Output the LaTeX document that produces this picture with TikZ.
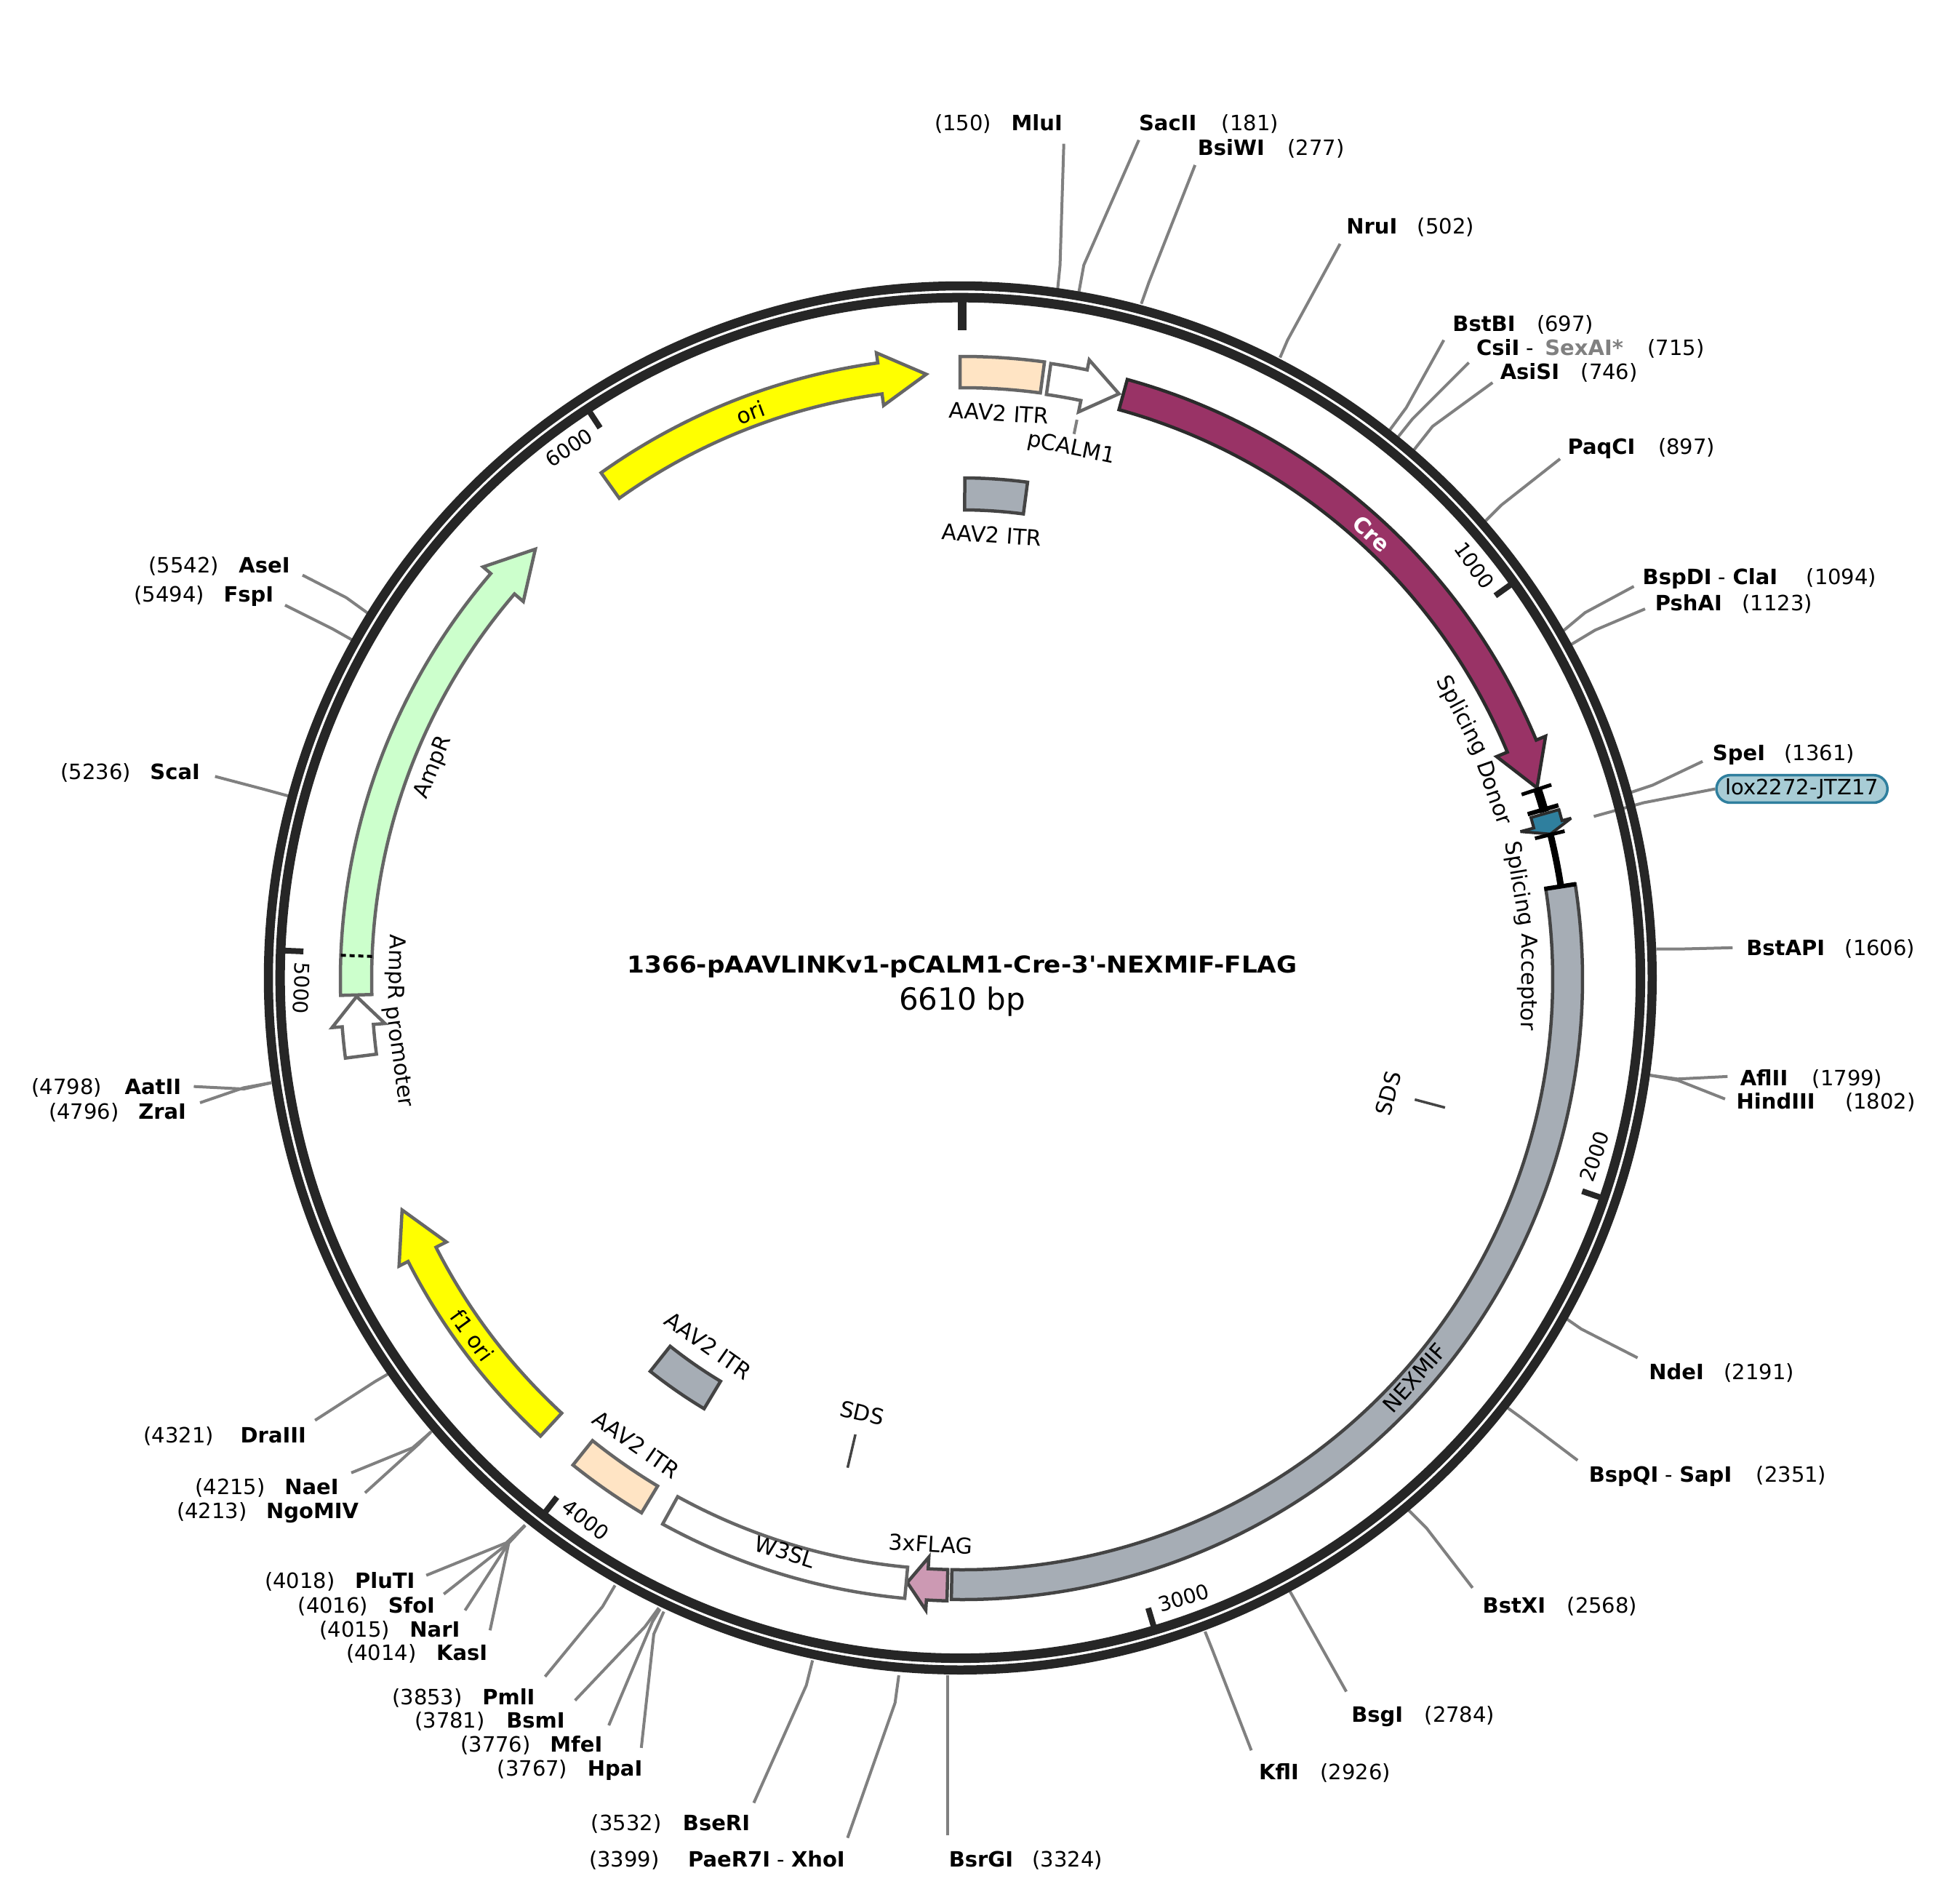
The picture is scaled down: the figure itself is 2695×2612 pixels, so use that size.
\documentclass[tikz,border=0pt]{standalone}
\usepackage{fontspec}
\setmainfont[Ligatures=TeXOff]{DejaVu Sans}
\newfontfamily\titlefamily[Ligatures=TeXOff,FakeStretch=1.07]{DejaVu Sans}
\usetikzlibrary{shapes.misc}
\definecolor{ring}{HTML}{262626}
\definecolor{leader}{HTML}{808080}
\definecolor{edgeA}{HTML}{666666}
\definecolor{edgeB}{HTML}{444444}
\definecolor{edgeC}{HTML}{2B2B2B}
\definecolor{peach}{HTML}{FFE4C4}
\definecolor{greyfeat}{HTML}{A6ADB5}
\definecolor{maroon}{HTML}{993366}
\definecolor{pinkfeat}{HTML}{CC99B3}
\definecolor{teal}{HTML}{2F7F9E}
\definecolor{mint}{HTML}{CCFFCC}
\definecolor{pill}{HTML}{A8CCD5}
\definecolor{ylw}{HTML}{FFFF00}
\definecolor{sexgrey}{HTML}{808080}
\newcommand{\lblfont}{\fontsize{29}{34}\selectfont}
\newcommand{\featfont}{\fontsize{30}{35}\selectfont}
\newcommand{\tickfont}{\fontsize{28}{33}\selectfont}
\newcommand{\gp}[1]{\hspace{\dimexpr24.6pt+#1pt\relax}}
\newcommand{\featbox}[5]{\draw[#1] ({90-#2}:#5) arc[start angle={90-#2},end angle={90-#3},radius=#5] -- ({90-#3}:#4) arc[start angle={90-#3},end angle={90-#2},radius=#4] -- cycle;}
\newcommand{\featarrow}[4]{\draw[#1] ({90-#2}:855) arc[start angle={90-#2},end angle={90-#3},radius=855] -- ({90-#3}:869) -- ({90-#4}:833) -- ({90-#3}:796) -- ({90-#3}:812) arc[start angle={90-#3},end angle={90-#2},radius=812] -- cycle;}
\newcommand{\site}[7]{\coordinate (#1-e) at (#5); \coordinate (#1-k) at (#6); \coordinate (#1-r) at (#7);
  \draw[leaderline] (#1-e) -- (#1-k) -- (#1-r);
  \node[sitelabel,anchor=#2] (#1) at (#3) {#4};}
\newcommand{\tick}[2]{\draw[tickline] ({90-#1/6610*360}:932) -- ({90-#1/6610*360}:904);
  \node[ticklabel,rotate=#2] (tk#1) at ({90-#1/6610*360+3.2}:906) {#1};}
\newcommand{\flabel}[6][black]{\node[featlabel,text=#1,rotate=#6] (#2) at ({90-#5}:#4) {#3};}
\tikzset{
  leaderline/.style={draw=leader,line width=4pt},
  sitelabel/.style={inner sep=0pt,yshift=-1.5pt,font=\lblfont},
  featlabel/.style={inner sep=0pt,font=\featfont},
  ticklabel/.style={inner sep=0pt,font=\tickfont},
  tickline/.style={draw=ring,line width=8pt},
  plainfeat/.style={line width=4.5pt,draw=edgeA},
  darkfeat/.style={line width=4.5pt,draw=edgeB},
  blackbar/.style={draw=black,line width=5pt},
  sdsline/.style={draw=edgeB,line width=3.5pt}
}
\begin{document}
\begin{tikzpicture}[x=1pt,y=1pt]
\useasboundingbox (-1323,-1266) rectangle (1372,1346);
\fill[white] (-1323,-1266) rectangle (1372,1346);
\begin{scope}[x=1.71875pt,y=-1.71875pt,shift={(-769.7,-783.1)}]
\site{mlui}{east}{850,98}{(150)\gp{3}\textbf{MluI}}{851,115}{848,212}{846,232}
\site{sacii}{west}{911,98}{\textbf{SacII}\gp{10}(181)}{911,112}{867,212}{863,234}
\site{bsiwi}{west}{958,118}{\textbf{BsiWI}\gp{7}(277)}{956,132}{919,226}{913,243}
\site{nrui}{west}{1077,181}{\textbf{NruI}\gp{3}(502)}{1072,195}{1030,272}{1024,286}
\site{bstbi}{west}{1162,259}{\textbf{BstBI}\gp{5}(697)}{1155,272}{1125,326}{1111,345}
\site{csii}{west}{1181,278}{\textbf{CsiI} - \hspace{6pt}\textcolor{sexgrey}{\textbf{SexAI*}}\gp{9}(715)}{1175,290}{1130,335}{1118,350}
\site{asisi}{west}{1200,297}{\textbf{AsiSI}\gp{5}(746)}{1194,306}{1146,341}{1131,360}
\site{paqci}{west}{1254,358}{\textbf{PaqCI}\gp{7}(897)}{1248,367}{1201,404}{1186,419}
\site{bspdi}{west}{1314,462}{\textbf{BspDI} - \textbf{ClaI}\gp{15}(1094)}{1307,469}{1268,490}{1250,505}
\site{pshai}{west}{1324,482}{\textbf{PshAI}\gp{3}(1123)}{1316,487}{1276,504}{1256,516}
\site{spei}{west}{1370,603}{\textbf{SpeI}\gp{2}(1361)}{1362,609}{1322,628}{1304,634}
\site{bstapi}{west}{1397,758}{\textbf{BstAPI}\gp{3}(1606)}{1386,758}{1346,759}{1325,759}
\site{aflii}{west}{1392,862}{\textbf{AflII}\gp{9}(1799)}{1382,861}{1342,863}{1320,860}
\site{hindiii}{west}{1389,881}{\textbf{HindIII}\gp{17}(1802)}{1380,879}{1342,864}{1320,860}
\site{ndei}{west}{1319,1097}{\textbf{NdeI}\gp{3}(2191)}{1310,1086}{1265,1063}{1252,1054}
\site{bspqi}{west}{1271,1180}{\textbf{BspQI} - \textbf{SapI}\gp{9}(2351)}{1262,1168}{1217,1134}{1206,1126}
\site{bstxi}{west}{1186,1284}{\textbf{BstXI}\gp{5}(2568)}{1178,1270}{1141,1222}{1127,1208}
\site{bsgi}{west}{1081,1372}{\textbf{BsgI}\gp{5}(2784)}{1077,1353}{1036,1280}{1032,1273}
\site{kfli}{west}{1007,1417}{\textbf{KflI}\gp{5}(2926)}{1001,1400}{970,1320}{964,1305}
\site{bsrgi}{west}{759,1487}{\textbf{BsrGI}\gp{2}(3324)}{758,1468}{758,1360}{758,1340}
\site{paer}{east}{676,1487}{(3399)\gp{15}\textbf{PaeR7I} - \textbf{XhoI}}{678,1470}{716,1362}{719,1340}
\site{bseri}{east}{600,1458}{(3532)\gp{5}\textbf{BseRI}}{603,1442}{645,1348}{650,1328}
\site{hpai}{east}{514,1415}{(3767)\gp{3}\textbf{HpaI}}{513,1398}{523,1307}{531,1289}
\site{mfei}{east}{482,1395}{(3776)\gp{2}\textbf{MfeI}}{487,1380}{522,1297}{528,1287}
\site{bsmi}{east}{452,1376}{(3781)\gp{5}\textbf{BsmI}}{460,1360}{516,1301}{527,1286}
\site{pmli}{east}{428,1357}{(3853)\gp{3}\textbf{PmlI}}{436,1341}{482,1285}{492,1268}
\site{kasi}{east}{390,1322}{(4014)\gp{3}\textbf{KasI}}{392,1304}{407,1234}{420,1220}
\site{nari}{east}{368,1303}{(4015)\gp{3}\textbf{NarI}}{372,1288}{407,1234}{420,1220}
\site{sfoi}{east}{348,1284}{(4016)\gp{3}\textbf{SfoI}}{355,1275}{407,1234}{420,1220}
\site{pluti}{east}{332,1264}{(4018)\gp{3}\textbf{PluTI}}{341,1260}{405,1234}{420,1220}
\site{ngomiv}{east}{287,1209}{(4213)\gp{2}\textbf{NgoMIV}}{292,1194}{335,1155}{345,1145}
\site{naei}{east}{271,1189}{(4215)\gp{2}\textbf{NaeI}}{281,1178}{330,1158}{344,1146}
\site{draiii}{east}{245,1148}{(4321)\gp{12}\textbf{DraIII}}{252,1136}{300,1105}{312,1098}
\site{zrai}{east}{149,889}{(4796)\gp{2}\textbf{ZraI}}{160,882}{195,870}{217,866}
\site{aatii}{east}{145,869}{(4798)\gp{7}\textbf{AatII}}{155,869}{195,871}{217,866}
\site{scai}{east}{160,617}{(5236)\gp{2}\textbf{ScaI}}{172,621}{210,631}{232,637}
\site{fspi}{east}{219,476}{(5494)\gp{2}\textbf{FspI}}{228,484}{266,503}{282,512}
\site{asei}{east}{232,452}{(5542)\gp{3}\textbf{AseI}}{242,460}{277,478}{295,491}
\coordinate (lox-t) at (1275,653);
\coordinate (lox-k) at (1315,642);
\node[rounded rectangle,draw=teal,fill=pill,line width=3.5pt,inner xsep=6pt,inner ysep=5pt,font=\lblfont,minimum width=235pt,minimum height=35pt] (loxpill) at (1441.5,631) {lox2272-JTZ17};
\draw[leaderline] (loxpill.west) -- (lox-k) -- (lox-t);
\end{scope}
% ring (its centre lies slightly off the feature centre)
\begin{scope}[shift={(-2.6,1.6)}]
\draw[ring,line width=12.5pt] (0,0) circle[radius=951.35];
\draw[ring,line width=13pt] (0,0) circle[radius=935.2];
\tick{1000}{-54.5}
\tick{2000}{71.1}
\tick{3000}{16.6}
\tick{4000}{-37.9}
\tick{5000}{-92.3}
\tick{6000}{33.3}
\end{scope}
\draw[ring,line width=12.5pt] (0,931) -- (0,892);
% features
\featbox{plainfeat,fill=peach}{-0.2}{7.6}{813}{856}
\featarrow{plainfeat,fill=white}{8.2}{11.6}{15}
\featarrow{edgeC,line width=4.5pt,fill=maroon}{15.4}{67.4}{71.6}
\draw[black,line width=12pt] ({90-71.7}:833) arc[start angle={90-71.7},end angle={90-74},radius=833];
\draw[blackbar] ({90-71.75}:810) -- ({90-71.75}:853);
\draw[black,line width=6pt] ({90-73.75}:810) -- ({90-73.75}:854);
\draw[edgeC,line width=4pt,fill=teal,miter limit=2] ({90-74.15}:853) arc[start angle={90-74.15},end angle={90-75.2},radius=853] -- ({90-75.2}:866) -- ({90-76.15}:833) -- ({90-75.2}:794) -- ({90-75.2}:813) arc[start angle={90-75.2},end angle={90-74.15},radius=813] -- cycle;
\draw[black,line width=9pt] ({90-76.2}:833) arc[start angle={90-76.2},end angle={90-81.2},radius=833];
\draw[blackbar] ({90-76.2}:811) -- ({90-76.2}:853);
\featbox{darkfeat,fill=greyfeat}{81.2}{181}{812}{853}
\draw[black,line width=6pt] ({90-81.2}:810) -- ({90-81.2}:854);
\featarrow{darkfeat,fill=pinkfeat}{181.4}{183.3}{185.2}
\featbox{plainfeat,fill=white}{185.3}{208.8}{812}{855}
\featbox{plainfeat,fill=peach}{211}{218.7}{813}{856}
\featarrow{plainfeat,fill=ylw}{222.7}{243}{247.6}
\featarrow{plainfeat,fill=white}{262.7}{265.6}{268.35}
\featarrow{plainfeat,fill=mint}{268.5}{310.7}{315.2}
\draw[black,line width=4pt,dash pattern=on 7pt off 5pt] ({90-272.2}:812) -- ({90-272.2}:855);
\featarrow{plainfeat,fill=ylw}{324.5}{352.2}{356.6}
\featbox{darkfeat,fill=greyfeat}{0.3}{7.5}{645}{689}
\featbox{darkfeat,fill=greyfeat}{211}{218.5}{645}{689}
\draw[sdsline] ({90-104.9}:644) -- ({90-104.9}:687);
\draw[sdsline] ({90-193.2}:643) -- ({90-193.2}:690);
\draw[leaderline] ({90-11.6}:785) -- ({90-11.6}:765);
% feature labels
\flabel{aav1}{AAV2 ITR}{780}{3.7}{-3.7}
\flabel{pcalm}{pCALM1}{744}{11.6}{-11.6}
\flabel{aav2}{AAV2 ITR}{612}{3.8}{-3.8}
\flabel{ori}{ori}{832}{339.5}{20.5}
\flabel[white]{cre}{\textbf{Cre}}{832}{42.6}{-42.6}
\flabel{nexmif}{NEXMIF}{829}{131.4}{48.6}
\flabel{flag}{3xFLAG}{778}{183.2}{-3.2}
\flabel{w3sl}{W3SL}{824}{197.2}{-17.2}
\flabel{aav3}{AAV2 ITR}{781}{215}{-35}
\flabel{aav4}{AAV2 ITR}{613}{214.7}{-35}
\flabel{f1}{f1 ori}{833}{234}{-54}
\flabel{ampr}{AmpR}{783}{291.8}{68.2}
\flabel{sds1}{SDS}{607}{105}{75}
\flabel{sds2}{SDS}{612}{193}{-13}
\flabel{sdon1}{Splicing}{776}{62.2}{-62.2}
\flabel{sdon2}{Donor}{776}{70.7}{-70.7}
\flabel{sacc1}{Splicing}{776}{80.3}{-80.3}
\flabel{sacc2}{Acceptor}{777}{90.3}{-90.3}
\flabel{ampp1}{AmpR}{780}{271.2}{-91.2}
\flabel{ampp2}{promoter}{783}{262.15}{-82.15}
% title
\node[inner sep=0pt,font=\titlefamily\bfseries\fontsize{32}{37}\selectfont] (title) at (0,17) {1366-pAAVLINKv1-pCALM1-Cre-3'-NEXMIF-FLAG};
\node[inner sep=0pt,font=\fontsize{42}{49}\selectfont] (size) at (0,-31) {6610 bp};
\end{tikzpicture}
\end{document}
